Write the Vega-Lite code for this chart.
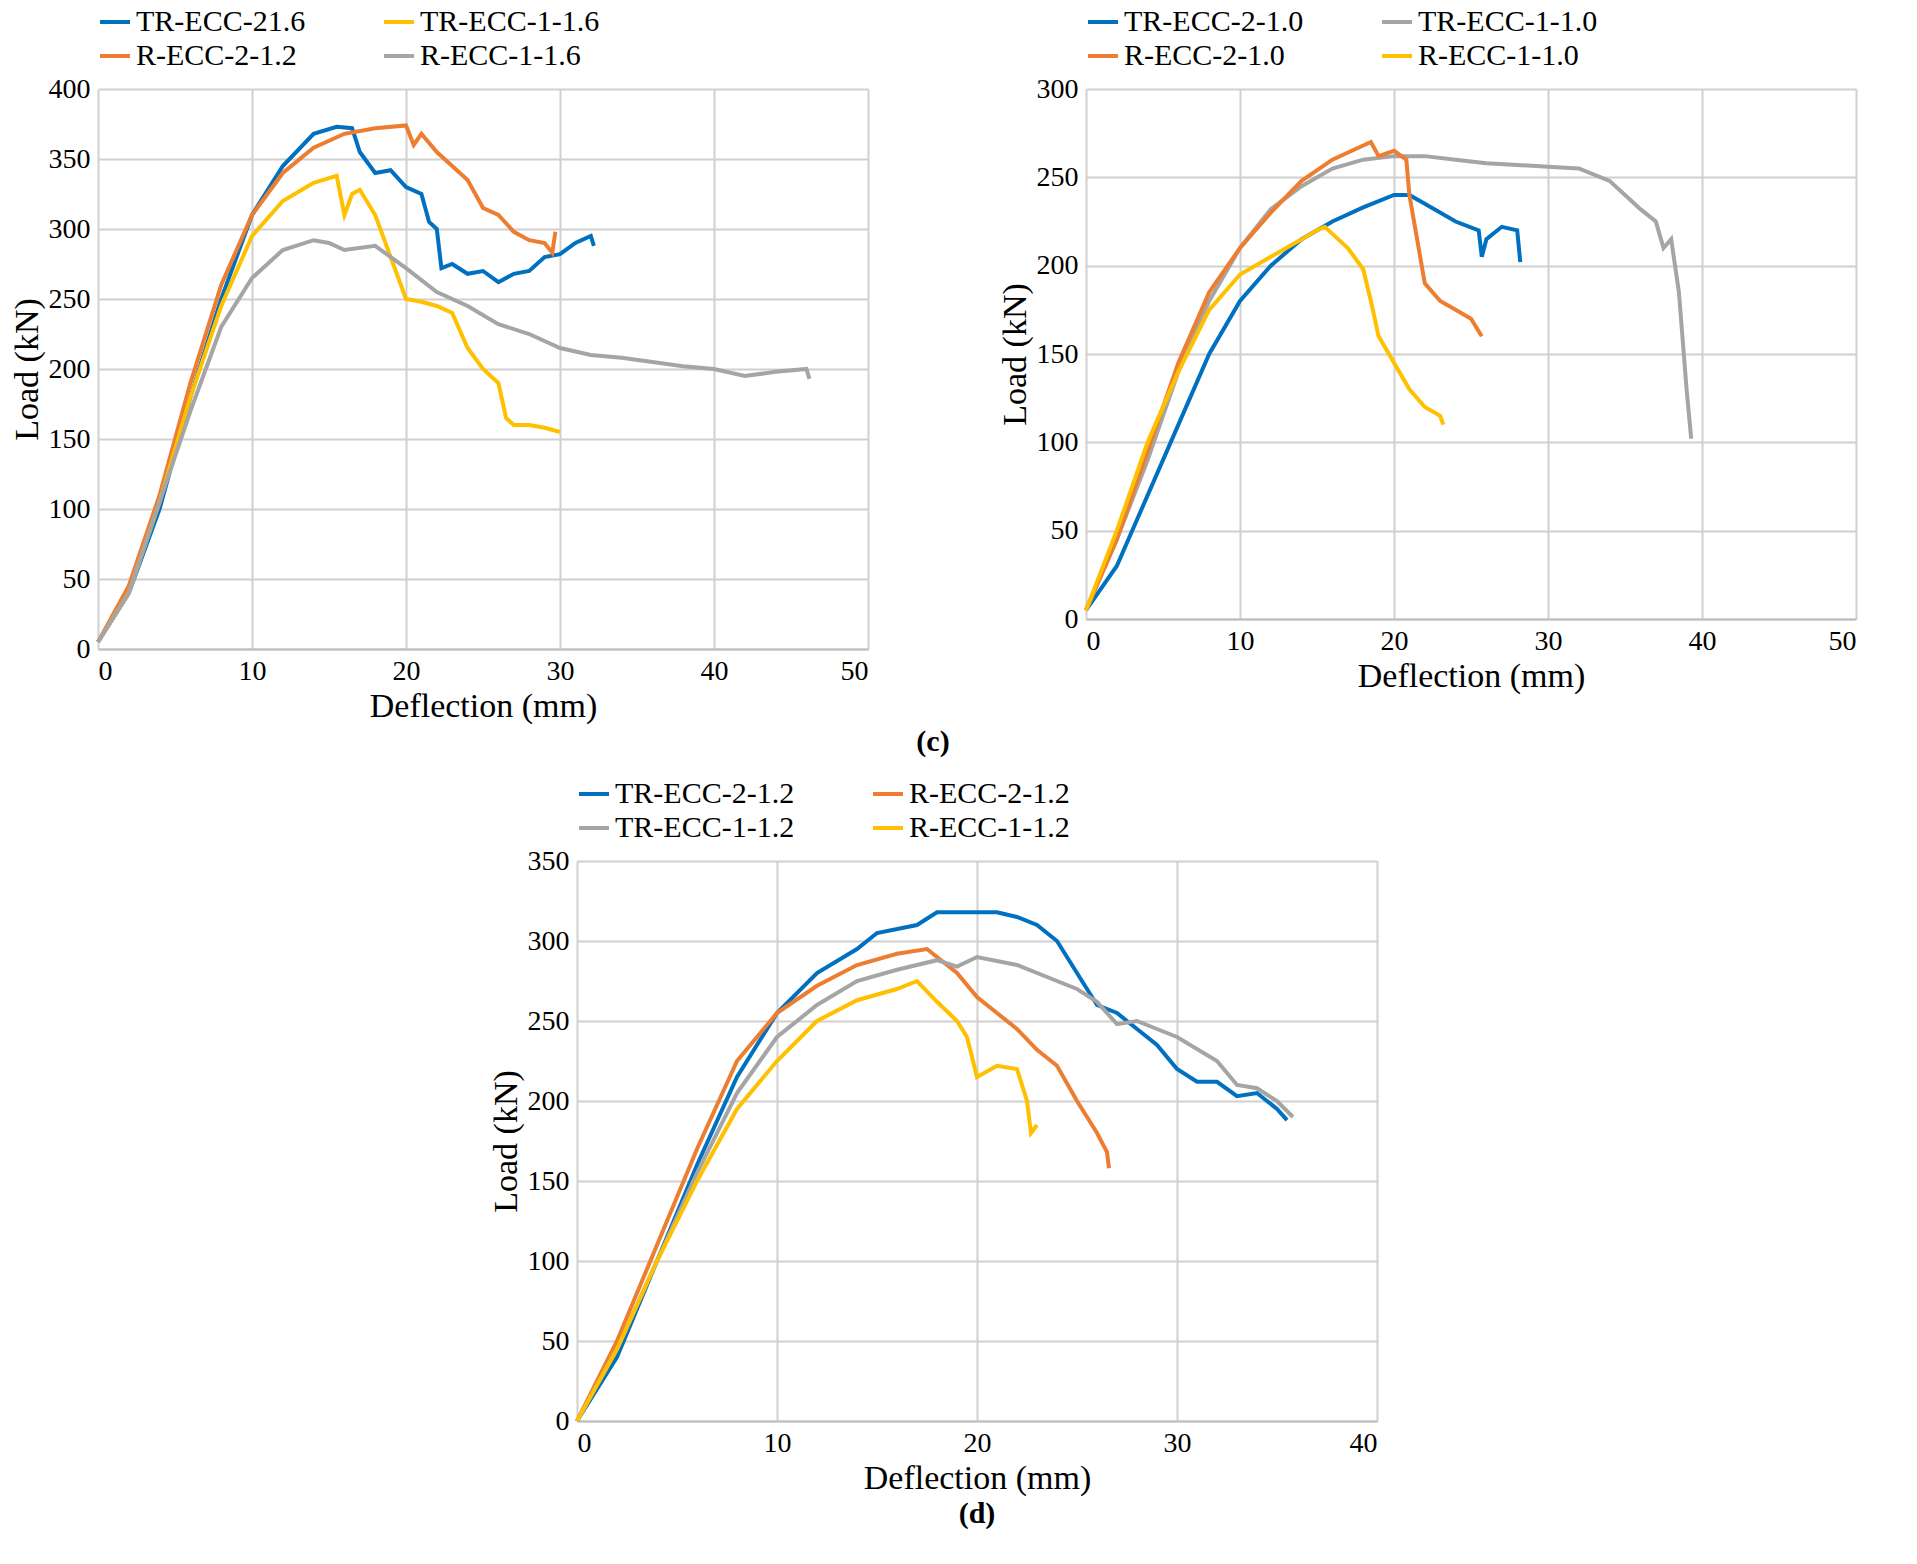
{
"$schema":"https://vega.github.io/schema/vega-lite/v6.json",
"background":"white",
"padding":{"left":10,"top":5,"right":10,"bottom":5},
"config":{"font":"Liberation Serif","view":{"stroke":null},
"axis":{"labelFont":"Liberation Serif","titleFont":"Liberation Serif","labelFontSize":28,"titleFontSize":34,"titleFontWeight":"normal","labelColor":"#000","titleColor":"#000","gridColor":"#d0d0d0","gridWidth":2,"ticks":false,"domain":false,"labelPadding":8},
"axisX":{"domain":true,"domainColor":"#bfbfbf","domainWidth":2},
"legend":{"orient":"top","columns":2,"labelFont":"Liberation Serif","labelFontSize":30,"labelLimit":0,"symbolType":"stroke","symbolStrokeWidth":5,"symbolSize":900,"columnPadding":70,"rowPadding":2,"title":null,"labelColor":"#000"},
"title":{"font":"Liberation Serif","fontSize":30,"fontWeight":"bold","orient":"bottom","anchor":"middle"},
"line":{"strokeWidth":4}},
"vconcat":[
{"hconcat":[
{"width":770,"height":560,
"data":{"values":[
{"s":"TR-ECC-21.6","x":0,"y":5},{"s":"TR-ECC-21.6","x":2,"y":40},{"s":"TR-ECC-21.6","x":4,"y":100},{"s":"TR-ECC-21.6","x":6,"y":180},{"s":"TR-ECC-21.6","x":8,"y":250},{"s":"TR-ECC-21.6","x":10,"y":310},{"s":"TR-ECC-21.6","x":12,"y":345},{"s":"TR-ECC-21.6","x":14,"y":368},{"s":"TR-ECC-21.6","x":15.5,"y":373},{"s":"TR-ECC-21.6","x":16.5,"y":372},{"s":"TR-ECC-21.6","x":17,"y":355},{"s":"TR-ECC-21.6","x":18,"y":340},{"s":"TR-ECC-21.6","x":19,"y":342},{"s":"TR-ECC-21.6","x":20,"y":330},{"s":"TR-ECC-21.6","x":21,"y":325},{"s":"TR-ECC-21.6","x":21.5,"y":305},{"s":"TR-ECC-21.6","x":22,"y":300},{"s":"TR-ECC-21.6","x":22.3,"y":272},{"s":"TR-ECC-21.6","x":23,"y":275},{"s":"TR-ECC-21.6","x":24,"y":268},{"s":"TR-ECC-21.6","x":25,"y":270},{"s":"TR-ECC-21.6","x":26,"y":262},{"s":"TR-ECC-21.6","x":27,"y":268},{"s":"TR-ECC-21.6","x":28,"y":270},{"s":"TR-ECC-21.6","x":29,"y":280},{"s":"TR-ECC-21.6","x":30,"y":282},{"s":"TR-ECC-21.6","x":31,"y":290},{"s":"TR-ECC-21.6","x":32,"y":295},{"s":"TR-ECC-21.6","x":32.2,"y":288},
{"s":"R-ECC-2-1.2","x":0,"y":5},{"s":"R-ECC-2-1.2","x":2,"y":45},{"s":"R-ECC-2-1.2","x":4,"y":110},{"s":"R-ECC-2-1.2","x":6,"y":190},{"s":"R-ECC-2-1.2","x":8,"y":260},{"s":"R-ECC-2-1.2","x":10,"y":310},{"s":"R-ECC-2-1.2","x":12,"y":340},{"s":"R-ECC-2-1.2","x":14,"y":358},{"s":"R-ECC-2-1.2","x":16,"y":368},{"s":"R-ECC-2-1.2","x":18,"y":372},{"s":"R-ECC-2-1.2","x":20,"y":374},{"s":"R-ECC-2-1.2","x":20.5,"y":360},{"s":"R-ECC-2-1.2","x":21,"y":368},{"s":"R-ECC-2-1.2","x":22,"y":355},{"s":"R-ECC-2-1.2","x":23,"y":345},{"s":"R-ECC-2-1.2","x":24,"y":335},{"s":"R-ECC-2-1.2","x":25,"y":315},{"s":"R-ECC-2-1.2","x":26,"y":310},{"s":"R-ECC-2-1.2","x":27,"y":298},{"s":"R-ECC-2-1.2","x":28,"y":292},{"s":"R-ECC-2-1.2","x":29,"y":290},{"s":"R-ECC-2-1.2","x":29.5,"y":283},{"s":"R-ECC-2-1.2","x":29.7,"y":298},
{"s":"TR-ECC-1-1.6","x":0,"y":5},{"s":"TR-ECC-1-1.6","x":2,"y":40},{"s":"TR-ECC-1-1.6","x":4,"y":105},{"s":"TR-ECC-1-1.6","x":6,"y":180},{"s":"TR-ECC-1-1.6","x":8,"y":245},{"s":"TR-ECC-1-1.6","x":10,"y":295},{"s":"TR-ECC-1-1.6","x":12,"y":320},{"s":"TR-ECC-1-1.6","x":14,"y":333},{"s":"TR-ECC-1-1.6","x":15.5,"y":338},{"s":"TR-ECC-1-1.6","x":16,"y":310},{"s":"TR-ECC-1-1.6","x":16.5,"y":325},{"s":"TR-ECC-1-1.6","x":17,"y":328},{"s":"TR-ECC-1-1.6","x":18,"y":310},{"s":"TR-ECC-1-1.6","x":19,"y":280},{"s":"TR-ECC-1-1.6","x":20,"y":250},{"s":"TR-ECC-1-1.6","x":21,"y":248},{"s":"TR-ECC-1-1.6","x":22,"y":245},{"s":"TR-ECC-1-1.6","x":23,"y":240},{"s":"TR-ECC-1-1.6","x":24,"y":215},{"s":"TR-ECC-1-1.6","x":25,"y":200},{"s":"TR-ECC-1-1.6","x":26,"y":190},{"s":"TR-ECC-1-1.6","x":26.5,"y":165},{"s":"TR-ECC-1-1.6","x":27,"y":160},{"s":"TR-ECC-1-1.6","x":28,"y":160},{"s":"TR-ECC-1-1.6","x":29,"y":158},{"s":"TR-ECC-1-1.6","x":30,"y":155},
{"s":"R-ECC-1-1.6","x":0,"y":5},{"s":"R-ECC-1-1.6","x":2,"y":40},{"s":"R-ECC-1-1.6","x":4,"y":105},{"s":"R-ECC-1-1.6","x":6,"y":170},{"s":"R-ECC-1-1.6","x":8,"y":230},{"s":"R-ECC-1-1.6","x":10,"y":265},{"s":"R-ECC-1-1.6","x":12,"y":285},{"s":"R-ECC-1-1.6","x":14,"y":292},{"s":"R-ECC-1-1.6","x":15,"y":290},{"s":"R-ECC-1-1.6","x":16,"y":285},{"s":"R-ECC-1-1.6","x":18,"y":288},{"s":"R-ECC-1-1.6","x":20,"y":272},{"s":"R-ECC-1-1.6","x":22,"y":255},{"s":"R-ECC-1-1.6","x":24,"y":245},{"s":"R-ECC-1-1.6","x":26,"y":232},{"s":"R-ECC-1-1.6","x":28,"y":225},{"s":"R-ECC-1-1.6","x":30,"y":215},{"s":"R-ECC-1-1.6","x":32,"y":210},{"s":"R-ECC-1-1.6","x":34,"y":208},{"s":"R-ECC-1-1.6","x":36,"y":205},{"s":"R-ECC-1-1.6","x":38,"y":202},{"s":"R-ECC-1-1.6","x":40,"y":200},{"s":"R-ECC-1-1.6","x":42,"y":195},{"s":"R-ECC-1-1.6","x":44,"y":198},{"s":"R-ECC-1-1.6","x":46,"y":200},{"s":"R-ECC-1-1.6","x":46.2,"y":193}]},
"mark":"line",
"encoding":{
"x":{"field":"x","type":"quantitative","title":"Deflection (mm)","scale":{"domain":[0,50]},"axis":{"tickCount":5,"grid":true}},
"y":{"field":"y","type":"quantitative","title":"Load (kN)","scale":{"domain":[0,400]},"axis":{"tickCount":8}},
"color":{"field":"s","type":"nominal","scale":{"domain":["TR-ECC-21.6","TR-ECC-1-1.6","R-ECC-2-1.2","R-ECC-1-1.6"],"range":["#0070C0","#FFC000","#ED7D31","#A5A5A5"]}}}},
{"width":770,"height":530,
"data":{"values":[
{"s":"TR-ECC-2-1.0","x":0,"y":5},{"s":"TR-ECC-2-1.0","x":2,"y":30},{"s":"TR-ECC-2-1.0","x":4,"y":70},{"s":"TR-ECC-2-1.0","x":6,"y":110},{"s":"TR-ECC-2-1.0","x":8,"y":150},{"s":"TR-ECC-2-1.0","x":10,"y":180},{"s":"TR-ECC-2-1.0","x":12,"y":200},{"s":"TR-ECC-2-1.0","x":14,"y":215},{"s":"TR-ECC-2-1.0","x":16,"y":225},{"s":"TR-ECC-2-1.0","x":18,"y":233},{"s":"TR-ECC-2-1.0","x":20,"y":240},{"s":"TR-ECC-2-1.0","x":21,"y":240},{"s":"TR-ECC-2-1.0","x":22,"y":235},{"s":"TR-ECC-2-1.0","x":24,"y":225},{"s":"TR-ECC-2-1.0","x":25.5,"y":220},{"s":"TR-ECC-2-1.0","x":25.7,"y":205},{"s":"TR-ECC-2-1.0","x":26,"y":215},{"s":"TR-ECC-2-1.0","x":27,"y":222},{"s":"TR-ECC-2-1.0","x":28,"y":220},{"s":"TR-ECC-2-1.0","x":28.2,"y":202},
{"s":"TR-ECC-1-1.0","x":0,"y":5},{"s":"TR-ECC-1-1.0","x":2,"y":45},{"s":"TR-ECC-1-1.0","x":4,"y":90},{"s":"TR-ECC-1-1.0","x":6,"y":140},{"s":"TR-ECC-1-1.0","x":8,"y":180},{"s":"TR-ECC-1-1.0","x":10,"y":210},{"s":"TR-ECC-1-1.0","x":12,"y":232},{"s":"TR-ECC-1-1.0","x":14,"y":245},{"s":"TR-ECC-1-1.0","x":16,"y":255},{"s":"TR-ECC-1-1.0","x":18,"y":260},{"s":"TR-ECC-1-1.0","x":20,"y":262},{"s":"TR-ECC-1-1.0","x":22,"y":262},{"s":"TR-ECC-1-1.0","x":24,"y":260},{"s":"TR-ECC-1-1.0","x":26,"y":258},{"s":"TR-ECC-1-1.0","x":28,"y":257},{"s":"TR-ECC-1-1.0","x":30,"y":256},{"s":"TR-ECC-1-1.0","x":32,"y":255},{"s":"TR-ECC-1-1.0","x":34,"y":248},{"s":"TR-ECC-1-1.0","x":35,"y":240},{"s":"TR-ECC-1-1.0","x":36,"y":232},{"s":"TR-ECC-1-1.0","x":37,"y":225},{"s":"TR-ECC-1-1.0","x":37.5,"y":210},{"s":"TR-ECC-1-1.0","x":38,"y":215},{"s":"TR-ECC-1-1.0","x":38.5,"y":185},{"s":"TR-ECC-1-1.0","x":39,"y":130},{"s":"TR-ECC-1-1.0","x":39.3,"y":102},
{"s":"R-ECC-2-1.0","x":0,"y":5},{"s":"R-ECC-2-1.0","x":2,"y":45},{"s":"R-ECC-2-1.0","x":4,"y":95},{"s":"R-ECC-2-1.0","x":6,"y":145},{"s":"R-ECC-2-1.0","x":8,"y":185},{"s":"R-ECC-2-1.0","x":10,"y":210},{"s":"R-ECC-2-1.0","x":12,"y":230},{"s":"R-ECC-2-1.0","x":14,"y":248},{"s":"R-ECC-2-1.0","x":16,"y":260},{"s":"R-ECC-2-1.0","x":18,"y":268},{"s":"R-ECC-2-1.0","x":18.5,"y":270},{"s":"R-ECC-2-1.0","x":19,"y":262},{"s":"R-ECC-2-1.0","x":20,"y":265},{"s":"R-ECC-2-1.0","x":20.8,"y":260},{"s":"R-ECC-2-1.0","x":21,"y":240},{"s":"R-ECC-2-1.0","x":21.5,"y":215},{"s":"R-ECC-2-1.0","x":22,"y":190},{"s":"R-ECC-2-1.0","x":23,"y":180},{"s":"R-ECC-2-1.0","x":24,"y":175},{"s":"R-ECC-2-1.0","x":25,"y":170},{"s":"R-ECC-2-1.0","x":25.7,"y":160},
{"s":"R-ECC-1-1.0","x":0,"y":5},{"s":"R-ECC-1-1.0","x":2,"y":50},{"s":"R-ECC-1-1.0","x":4,"y":100},{"s":"R-ECC-1-1.0","x":6,"y":140},{"s":"R-ECC-1-1.0","x":8,"y":175},{"s":"R-ECC-1-1.0","x":10,"y":195},{"s":"R-ECC-1-1.0","x":12,"y":205},{"s":"R-ECC-1-1.0","x":13,"y":210},{"s":"R-ECC-1-1.0","x":14,"y":215},{"s":"R-ECC-1-1.0","x":15,"y":220},{"s":"R-ECC-1-1.0","x":15.5,"y":222},{"s":"R-ECC-1-1.0","x":16,"y":218},{"s":"R-ECC-1-1.0","x":17,"y":210},{"s":"R-ECC-1-1.0","x":18,"y":198},{"s":"R-ECC-1-1.0","x":18.5,"y":180},{"s":"R-ECC-1-1.0","x":19,"y":160},{"s":"R-ECC-1-1.0","x":20,"y":145},{"s":"R-ECC-1-1.0","x":21,"y":130},{"s":"R-ECC-1-1.0","x":22,"y":120},{"s":"R-ECC-1-1.0","x":23,"y":115},{"s":"R-ECC-1-1.0","x":23.2,"y":110}]},
"mark":"line",
"encoding":{
"x":{"field":"x","type":"quantitative","title":"Deflection (mm)","scale":{"domain":[0,50]},"axis":{"tickCount":5}},
"y":{"field":"y","type":"quantitative","title":"Load (kN)","scale":{"domain":[0,300]},"axis":{"tickCount":6}},
"color":{"field":"s","type":"nominal","scale":{"domain":["TR-ECC-2-1.0","TR-ECC-1-1.0","R-ECC-2-1.0","R-ECC-1-1.0"],"range":["#0070C0","#A5A5A5","#ED7D31","#FFC000"]}}}}
],"spacing":130,"title":{"text":"(c)"},"resolve":{"scale":{"color":"independent"}}},
{"width":800,"height":560,"title":{"text":"(d)"},
"data":{"values":[
{"s":"TR-ECC-2-1.2","x":0,"y":0},{"s":"TR-ECC-2-1.2","x":2,"y":40},{"s":"TR-ECC-2-1.2","x":4,"y":100},{"s":"TR-ECC-2-1.2","x":6,"y":160},{"s":"TR-ECC-2-1.2","x":8,"y":215},{"s":"TR-ECC-2-1.2","x":10,"y":255},{"s":"TR-ECC-2-1.2","x":12,"y":280},{"s":"TR-ECC-2-1.2","x":14,"y":295},{"s":"TR-ECC-2-1.2","x":15,"y":305},{"s":"TR-ECC-2-1.2","x":17,"y":310},{"s":"TR-ECC-2-1.2","x":18,"y":318},{"s":"TR-ECC-2-1.2","x":20,"y":318},{"s":"TR-ECC-2-1.2","x":21,"y":318},{"s":"TR-ECC-2-1.2","x":22,"y":315},{"s":"TR-ECC-2-1.2","x":23,"y":310},{"s":"TR-ECC-2-1.2","x":24,"y":300},{"s":"TR-ECC-2-1.2","x":25,"y":280},{"s":"TR-ECC-2-1.2","x":26,"y":260},{"s":"TR-ECC-2-1.2","x":27,"y":255},{"s":"TR-ECC-2-1.2","x":28,"y":245},{"s":"TR-ECC-2-1.2","x":29,"y":235},{"s":"TR-ECC-2-1.2","x":30,"y":220},{"s":"TR-ECC-2-1.2","x":31,"y":212},{"s":"TR-ECC-2-1.2","x":32,"y":212},{"s":"TR-ECC-2-1.2","x":33,"y":203},{"s":"TR-ECC-2-1.2","x":34,"y":205},{"s":"TR-ECC-2-1.2","x":35,"y":195},{"s":"TR-ECC-2-1.2","x":35.5,"y":188},
{"s":"R-ECC-2-1.2","x":0,"y":0},{"s":"R-ECC-2-1.2","x":2,"y":50},{"s":"R-ECC-2-1.2","x":4,"y":110},{"s":"R-ECC-2-1.2","x":6,"y":170},{"s":"R-ECC-2-1.2","x":8,"y":225},{"s":"R-ECC-2-1.2","x":10,"y":255},{"s":"R-ECC-2-1.2","x":12,"y":272},{"s":"R-ECC-2-1.2","x":14,"y":285},{"s":"R-ECC-2-1.2","x":16,"y":292},{"s":"R-ECC-2-1.2","x":17.5,"y":295},{"s":"R-ECC-2-1.2","x":18,"y":290},{"s":"R-ECC-2-1.2","x":19,"y":280},{"s":"R-ECC-2-1.2","x":20,"y":265},{"s":"R-ECC-2-1.2","x":21,"y":255},{"s":"R-ECC-2-1.2","x":22,"y":245},{"s":"R-ECC-2-1.2","x":23,"y":232},{"s":"R-ECC-2-1.2","x":24,"y":222},{"s":"R-ECC-2-1.2","x":25,"y":200},{"s":"R-ECC-2-1.2","x":26,"y":180},{"s":"R-ECC-2-1.2","x":26.5,"y":168},{"s":"R-ECC-2-1.2","x":26.6,"y":158},
{"s":"TR-ECC-1-1.2","x":0,"y":0},{"s":"TR-ECC-1-1.2","x":2,"y":45},{"s":"TR-ECC-1-1.2","x":4,"y":100},{"s":"TR-ECC-1-1.2","x":6,"y":155},{"s":"TR-ECC-1-1.2","x":8,"y":205},{"s":"TR-ECC-1-1.2","x":10,"y":240},{"s":"TR-ECC-1-1.2","x":12,"y":260},{"s":"TR-ECC-1-1.2","x":14,"y":275},{"s":"TR-ECC-1-1.2","x":16,"y":282},{"s":"TR-ECC-1-1.2","x":18,"y":288},{"s":"TR-ECC-1-1.2","x":19,"y":284},{"s":"TR-ECC-1-1.2","x":20,"y":290},{"s":"TR-ECC-1-1.2","x":22,"y":285},{"s":"TR-ECC-1-1.2","x":24,"y":275},{"s":"TR-ECC-1-1.2","x":25,"y":270},{"s":"TR-ECC-1-1.2","x":26,"y":262},{"s":"TR-ECC-1-1.2","x":27,"y":248},{"s":"TR-ECC-1-1.2","x":28,"y":250},{"s":"TR-ECC-1-1.2","x":29,"y":245},{"s":"TR-ECC-1-1.2","x":30,"y":240},{"s":"TR-ECC-1-1.2","x":32,"y":225},{"s":"TR-ECC-1-1.2","x":33,"y":210},{"s":"TR-ECC-1-1.2","x":34,"y":208},{"s":"TR-ECC-1-1.2","x":35,"y":200},{"s":"TR-ECC-1-1.2","x":35.8,"y":190},
{"s":"R-ECC-1-1.2","x":0,"y":0},{"s":"R-ECC-1-1.2","x":2,"y":45},{"s":"R-ECC-1-1.2","x":4,"y":100},{"s":"R-ECC-1-1.2","x":6,"y":150},{"s":"R-ECC-1-1.2","x":8,"y":195},{"s":"R-ECC-1-1.2","x":10,"y":225},{"s":"R-ECC-1-1.2","x":12,"y":250},{"s":"R-ECC-1-1.2","x":14,"y":263},{"s":"R-ECC-1-1.2","x":16,"y":270},{"s":"R-ECC-1-1.2","x":17,"y":275},{"s":"R-ECC-1-1.2","x":18,"y":262},{"s":"R-ECC-1-1.2","x":19,"y":250},{"s":"R-ECC-1-1.2","x":19.5,"y":240},{"s":"R-ECC-1-1.2","x":20,"y":215},{"s":"R-ECC-1-1.2","x":21,"y":222},{"s":"R-ECC-1-1.2","x":22,"y":220},{"s":"R-ECC-1-1.2","x":22.5,"y":200},{"s":"R-ECC-1-1.2","x":22.7,"y":180},{"s":"R-ECC-1-1.2","x":23,"y":185}]},
"mark":"line",
"encoding":{
"x":{"field":"x","type":"quantitative","title":"Deflection (mm)","scale":{"domain":[0,40]},"axis":{"tickCount":4}},
"y":{"field":"y","type":"quantitative","title":"Load (kN)","scale":{"domain":[0,350]},"axis":{"tickCount":7}},
"color":{"field":"s","type":"nominal","scale":{"domain":["TR-ECC-2-1.2","R-ECC-2-1.2","TR-ECC-1-1.2","R-ECC-1-1.2"],"range":["#0070C0","#ED7D31","#A5A5A5","#FFC000"]}}}}
],"center":true,"spacing":20,"resolve":{"scale":{"color":"independent"}}}
